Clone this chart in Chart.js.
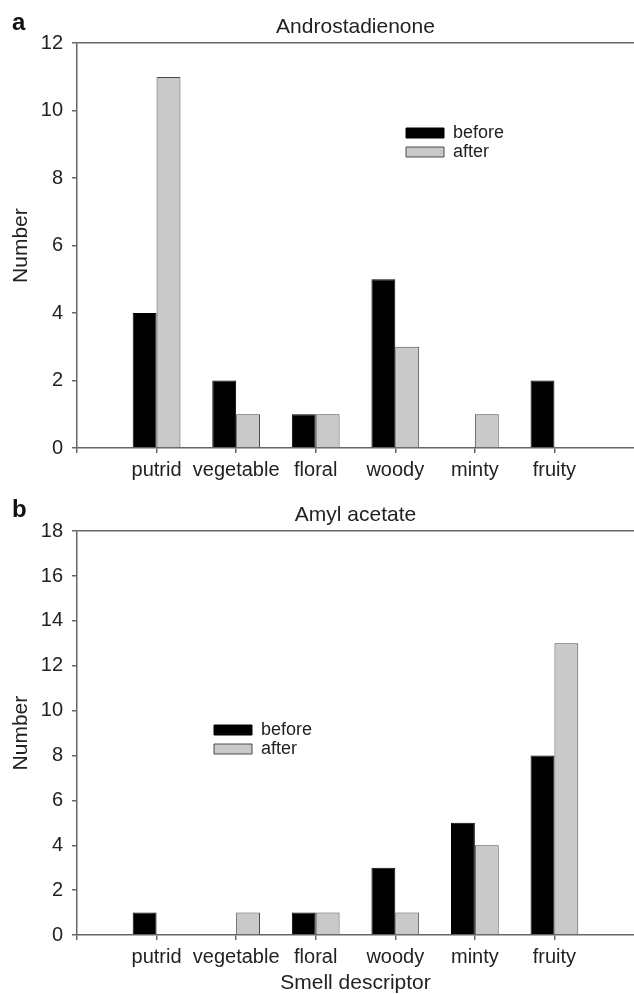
<!DOCTYPE html>
<html>
<head>
<meta charset="utf-8">
<script src="https://cdn.jsdelivr.net/npm/chart.js@4"></script>
<style>
  html, body { margin: 0; padding: 0; background: #fff; }
  #wrap { position: relative; width: 634px; height: 994px; overflow: hidden; }
  canvas { position: absolute; left: 0; }
  .panel { position: absolute; left: 12px; font: bold 24px "Liberation Sans", Arial, sans-serif; line-height: 24px; color: #111; }
</style>
</head>
<body>
<div id="wrap">
  <canvas id="chartA" width="634" height="490" style="top:0"></canvas>
  <canvas id="chartB" width="634" height="504" style="top:490px"></canvas>
  <div class="panel" style="top:10px">a</div>
  <div class="panel" style="top:497px">b</div>
</div>
<script>
const categories = ['putrid', 'vegetable', 'floral', 'woody', 'minty', 'fruity'];

const androBefore = [4, 2, 1, 5, 0, 2];
const androAfter  = [11, 1, 1, 3, 1, 0];
const amylBefore  = [1, 0, 1, 3, 5, 8];
const amylAfter   = [0, 1, 1, 1, 4, 13];

const androTicks = [0, 2, 4, 6, 8, 10, 12];
const amylTicks  = [0, 2, 4, 6, 8, 10, 12, 14, 16, 18];

const FONT = '"Liberation Sans", Arial, sans-serif';
const AXIS = '#666';
const TEXT = '#222';

// empty slot on each side, the axes start one category left of "putrid"
const pad = arr => [null, ...arr, null];
const labels = ['', ...categories, ''];

// move the legend box to a spot inside the plot
const legendMover = {
  id: 'legendMover',
  afterLayout(chart, args, opts) {
    const lg = chart.legend;
    if (!lg || !opts.at) return;
    const p = lg.options.labels.padding;
    const shift = (lg.options.labels.font.size - lg.options.labels.boxHeight) / 2;
    lg.left = opts.at.left - p;
    lg.top = opts.at.top - p - shift;
  }
};

function makeChart(id, title, before, after, ticks, o) {
  const max = ticks[ticks.length - 1];
  return new Chart(document.getElementById(id), {
    type: 'bar',
    data: {
      labels: labels,
      datasets: [
        { label: 'before', data: pad(before), backgroundColor: '#000', borderColor: '#000', borderWidth: 1 },
        { label: 'after', data: pad(after), backgroundColor: '#c9c9c9', borderColor: '#4a4a4a', borderWidth: 1 }
      ]
    },
    options: {
      responsive: false,
      animation: false,
      layout: { padding: 0 },
      datasets: { bar: { barPercentage: 1, categoryPercentage: 0.6 } },
      plugins: {
        title: {
          display: true,
          text: title,
          fullSize: false,
          color: TEXT,
          font: { family: FONT, size: 21, weight: 'normal', lineHeight: 1.2 },
          padding: o.titlePad
        },
        legend: {
          position: 'chartArea',
          align: 'start',
          labels: {
            color: TEXT,
            font: { family: FONT, size: 18, lineHeight: 1 },
            boxWidth: 38,
            boxHeight: 10,
            padding: 1
          }
        },
        legendMover: { at: o.legendAt },
        tooltip: { enabled: false }
      },
      scales: {
        x: {
          offset: false,
          afterFit: s => { s.height = o.xHeight; },
          grid: {
            offset: false, drawOnChartArea: false, tickLength: 5, lineWidth: 1.5,
            // last slot sits on the page edge, no tick there
            tickColor: c => c.index === labels.length - 1 ? 'transparent' : AXIS
          },
          border: { color: AXIS, width: 1.5 },
          // padding 0 keeps the plot flush with the right edge; line height pushes labels down
          ticks: { color: TEXT, font: { family: FONT, size: 20, lineHeight: 1.7 }, padding: 0, autoSkip: false, maxRotation: 0 },
          title: o.xTitle ? {
            display: true, text: o.xTitle, color: TEXT,
            font: { family: FONT, size: 21, lineHeight: 1 }, padding: 0
          } : { display: false }
        },
        y: {
          min: 0,
          max: max,
          afterFit: s => { s.width = 77; },
          grid: {
            color: c => c.tick && c.tick.value === max ? AXIS : 'transparent',
            tickColor: AXIS, tickLength: 5, lineWidth: 1.5
          },
          border: { color: AXIS, width: 1.5 },
          ticks: { stepSize: ticks[1] - ticks[0], color: TEXT, font: { family: FONT, size: 20 }, padding: 9 },
          title: {
            display: true, text: 'Number', color: TEXT,
            font: { family: FONT, size: 21, lineHeight: 1 }, padding: { top: 11, bottom: 0 }
          }
        }
      }
    },
    plugins: [legendMover]
  });
}

makeChart('chartA', 'Androstadienone', androBefore, androAfter, androTicks, {
  titlePad: { top: 15, bottom: 3 },
  xHeight: 42,
  legendAt: { left: 406, top: 128 }
});

makeChart('chartB', 'Amyl acetate', amylBefore, amylAfter, amylTicks, {
  titlePad: { top: 13, bottom: 3 },
  xHeight: 59,
  xTitle: 'Smell descriptor',
  legendAt: { left: 214, top: 235 }
});
</script>
</body>
</html>
